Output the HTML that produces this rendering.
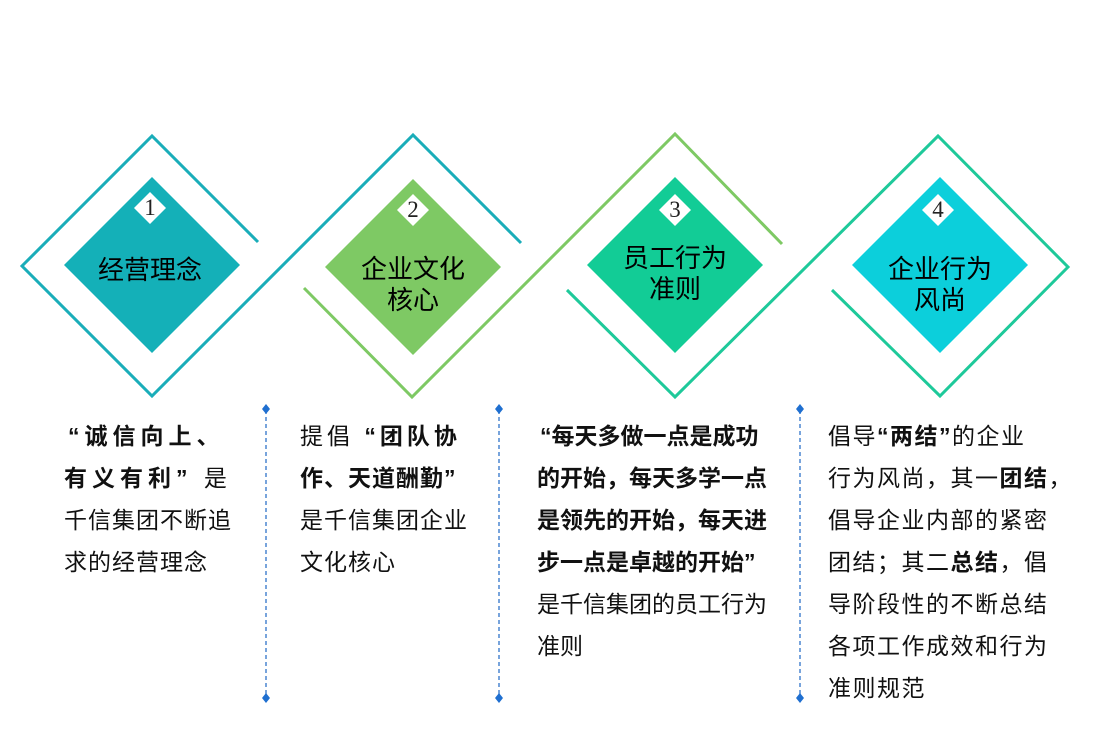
<!DOCTYPE html>
<html><head><meta charset="utf-8"><style>
body{margin:0;width:1111px;height:752px;background:#fff;overflow:hidden;position:relative;font-family:"Liberation Sans","Noto Sans CJK SC",sans-serif;}
.l{position:absolute;white-space:nowrap;font-size:23px;line-height:42px;letter-spacing:1px;color:#111;}
b{font-weight:bold;}
.t{position:absolute;font-size:26px;line-height:31px;text-align:center;color:#000;width:160px;}
.n{position:absolute;font-family:"Liberation Serif",serif;font-size:23px;width:30px;text-align:center;color:#222;}
</style></head><body>
<svg width="1111" height="752" style="position:absolute;left:0;top:0">
<g fill="none" stroke-width="3">
<polyline points="258,242 152,136 22,266 152,396 413,135 521,243" stroke="#1aadb9"/>
<polyline points="304,288 412,397 675,134 782,244" stroke="#7ec964"/>
<polyline points="567,290 675,397 938,136 1068,267 940,396 832,290" stroke="#1ec99a"/>
</g>
<polygon points="152,177 240,265 152,353 64,265" fill="#14b0b8"/>
<polygon points="413,179 501,267 413,355 325,267" fill="#7ec964"/>
<polygon points="675,177 763,265 675,353 587,265" fill="#12cc96"/>
<polygon points="940,177 1028,265 940,353 852,265" fill="#0ccfdb"/>
<g fill="#fff">
<polygon points="150,192 166,208 150,224 134,208"/>
<polygon points="413,194 429,210 413,226 397,210"/>
<polygon points="675,194 691,210 675,226 659,210"/>
<polygon points="938,194 954,210 938,226 922,210"/>
</g>
<g stroke="#2f73c9" stroke-width="1.3" stroke-dasharray="4,3">
<line x1="266" y1="410" x2="266" y2="697"/>
<line x1="499" y1="410" x2="499" y2="697"/>
<line x1="800" y1="410" x2="800" y2="697"/>
</g>
<g fill="#1f6fd0">
<polygon points="266,404 270,409 266,414 262,409"/><polygon points="266,693 270,698 266,703 262,698"/>
<polygon points="499,404 503,409 499,414 495,409"/><polygon points="499,693 503,698 499,703 495,698"/>
<polygon points="800,404 804,409 800,414 796,409"/><polygon points="800,693 804,698 800,703 796,698"/>
</g>
</svg>
<div class="n" style="left:135px;top:195px">1</div>
<div class="n" style="left:398px;top:197px">2</div>
<div class="n" style="left:660px;top:197px">3</div>
<div class="n" style="left:923px;top:197px">4</div>
<div class="t" style="left:70px;top:255px">经营理念</div>
<div class="t" style="left:333px;top:254px">企业文化<br>核心</div>
<div class="t" style="left:595px;top:243px">员工行为<br>准则</div>
<div class="t" style="left:860px;top:254px">企业行为<br>风尚</div>

<div class="l" style="left:68px;top:415px;letter-spacing:5px"><b>“诚信向上、</b></div>
<div class="l" style="left:64px;top:457px;letter-spacing:5px"><b>有义有利”</b> 是</div>
<div class="l" style="left:64px;top:499px">千信集团不断追</div>
<div class="l" style="left:64px;top:541px">求的经营理念</div>

<div class="l" style="left:300px;top:415px;letter-spacing:4px">提倡 <b>“团队协</b></div>
<div class="l" style="left:300px;top:457px"><b>作、天道酬勤”</b></div>
<div class="l" style="left:300px;top:499px">是千信集团企业</div>
<div class="l" style="left:300px;top:541px">文化核心</div>

<div class="l" style="left:540px;top:415px;letter-spacing:0px"><b>“每天多做一点是成功</b></div>
<div class="l" style="left:537px;top:457px;letter-spacing:0px"><b>的开始，每天多学一点</b></div>
<div class="l" style="left:537px;top:499px;letter-spacing:0px"><b>是领先的开始，每天进</b></div>
<div class="l" style="left:537px;top:541px;letter-spacing:0px"><b>步一点是卓越的开始”</b></div>
<div class="l" style="left:537px;top:583px;letter-spacing:0px">是千信集团的员工行为</div>
<div class="l" style="left:537px;top:625px;letter-spacing:0px">准则</div>

<div class="l" style="left:828px;top:415px;letter-spacing:1.5px">倡导<b>“两结”</b>的企业</div>
<div class="l" style="left:828px;top:457px;letter-spacing:1.5px">行为风尚，其一<b>团结</b>，</div>
<div class="l" style="left:828px;top:499px;letter-spacing:1.5px">倡导企业内部的紧密</div>
<div class="l" style="left:828px;top:541px;letter-spacing:1.5px">团结；其二<b>总结</b>，倡</div>
<div class="l" style="left:828px;top:583px;letter-spacing:1.5px">导阶段性的不断总结</div>
<div class="l" style="left:828px;top:625px;letter-spacing:1.5px">各项工作成效和行为</div>
<div class="l" style="left:828px;top:667px;letter-spacing:1.5px">准则规范</div>
</body></html>
